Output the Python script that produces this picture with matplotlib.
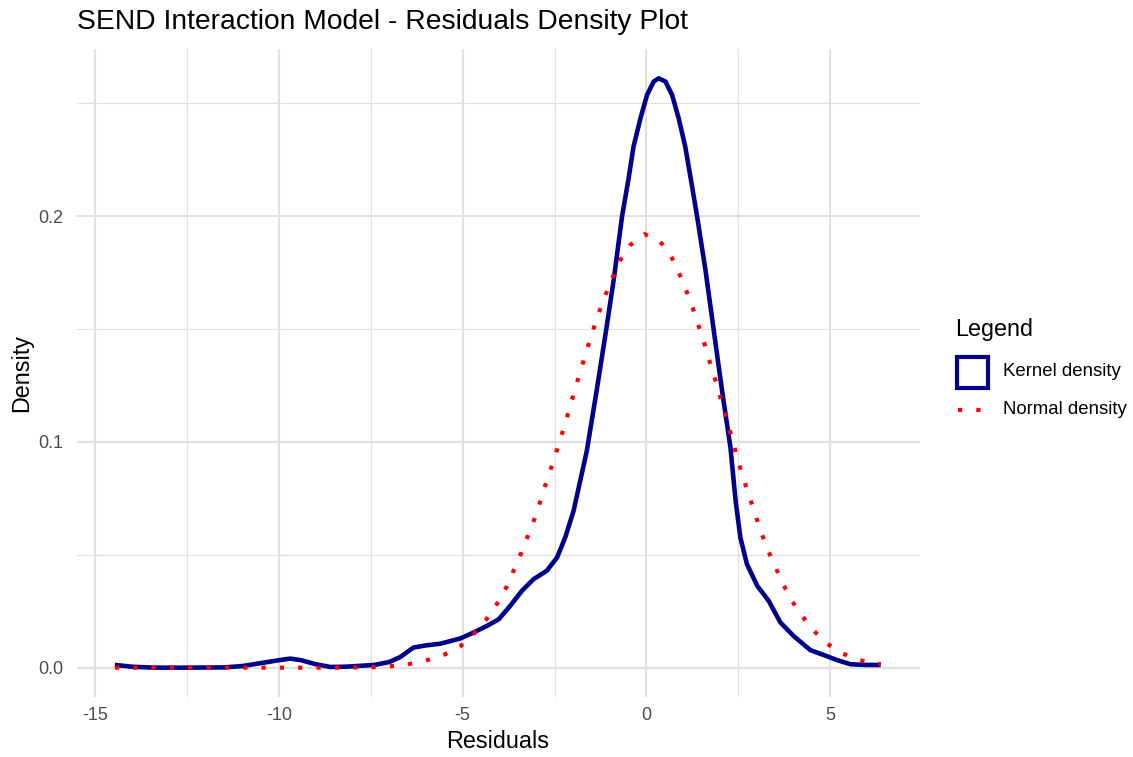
import matplotlib.pyplot as plt
from matplotlib.lines import Line2D
from matplotlib.patches import Rectangle
from matplotlib.ticker import MultipleLocator

plt.rcParams['font.family'] = ['Liberation Sans', 'DejaVu Sans']
plt.rcParams['axes.unicode_minus'] = False

# kernel density of the residuals
kde_x = [-14.47, -14.0, -13.4, -12.5, -11.5, -11.0, -10.5, -10.0, -9.7, -9.4,
         -9.0, -8.6, -8.2, -7.8, -7.4, -7.0, -6.7, -6.34, -5.98, -5.61,
         -5.07, -4.71, -4.34, -4.02, -3.71, -3.39, -3.07, -2.71, -2.43, -2.21,
         -1.98, -1.8, -1.62, -1.41, -1.34, -1.09, -0.89, -0.66, -0.48, -0.35,
         -0.16, 0.02, 0.2, 0.335, 0.52, 0.7, 0.88, 1.06, 1.22, 1.38,
         1.61, 1.83, 2.06, 2.29, 2.43, 2.56, 2.74, 3.02, 3.33, 3.65,
         4.01, 4.47, 4.83, 5.2, 5.56, 6.0, 6.38]
kde_y = [0.0012, 0.0004, 0.0, 0.0, 0.0001, 0.0007, 0.002, 0.0033, 0.004, 0.0033,
         0.0015, 0.0003, 0.0004, 0.0008, 0.0012, 0.0025, 0.0047, 0.0089, 0.0099, 0.0106,
         0.0129, 0.0155, 0.0185, 0.0214, 0.0273, 0.034, 0.0392, 0.0429, 0.0488, 0.0576,
         0.0695, 0.0828, 0.0961, 0.117, 0.124, 0.15, 0.1716, 0.2, 0.217, 0.2307,
         0.2433, 0.2537, 0.2596, 0.261, 0.2596, 0.2537, 0.2433, 0.2307, 0.2155, 0.2,
         0.176, 0.15, 0.1228, 0.0975, 0.0739, 0.0576, 0.0458, 0.0362, 0.0296, 0.02,
         0.014, 0.0077, 0.0056, 0.0033, 0.0015, 0.0012, 0.0012]

# normal density with the residuals' mean and sd
norm_x = [-14.47, -12.0, -10.0, -8.5, -7.43, -6.98, -6.48, -5.98, -5.53, -5.07,
          -4.69, -4.36, -4.07, -3.81, -3.6, -3.4, -3.21, -3.02, -2.86, -2.71,
          -2.54, -2.38, -2.23, -2.08, -1.94, -1.79, -1.64, -1.48, -1.32, -1.14,
          -0.94, -0.73, -0.45, -0.05, 0.38, 0.68, 0.91, 1.11, 1.29, 1.45,
          1.61, 1.75, 1.91, 2.05, 2.19, 2.34, 2.47, 2.62, 2.78, 2.95,
          3.11, 3.29, 3.5, 3.71, 3.95, 4.24, 4.56, 4.92, 5.35, 5.81, 6.38]
norm_y = [0.0, 0.0, 0.0, 0.0, 0.0002, 0.0006, 0.0015, 0.0033, 0.0055, 0.0094,
          0.0151, 0.0213, 0.0282, 0.0356, 0.0435, 0.0511, 0.059, 0.067, 0.075, 0.083,
          0.091, 0.0993, 0.107, 0.1155, 0.1235, 0.1316, 0.1397, 0.148, 0.156, 0.164,
          0.172, 0.18, 0.187, 0.192, 0.1886, 0.182, 0.174, 0.166, 0.158, 0.15,
          0.142, 0.134, 0.1257, 0.1176, 0.1095, 0.1014, 0.0931, 0.085, 0.0769, 0.0687,
          0.0606, 0.0528, 0.0451, 0.0374, 0.0299, 0.0229, 0.0163, 0.0106, 0.0062, 0.0033, 0.0015]

x_ticks = [-15, -10, -5, 0, 5]
y_ticks = [0.0, 0.1, 0.2]
legend_labels = ['Kernel density', 'Normal density']

W, H = 1133, 757
fig = plt.figure(figsize=(W / 100, H / 100), dpi=100)
ax = fig.add_axes([77 / W, 1 - 697 / H, 843 / W, 648 / H])

navy = '#00008B'
red = '#FF0000'
dot = (0, (1, 3.4))

ax.plot(kde_x, kde_y, color=navy, lw=3.3, solid_joinstyle='round',
        solid_capstyle='butt', zorder=3)
ax.plot(norm_x, norm_y, color=red, lw=3.0, linestyle=dot,
        dash_capstyle='butt', zorder=4)

ax.set_xlim(-15.5, 7.45)
ax.set_ylim(-0.013, 0.274)
ax.set_xticks(x_ticks)
ax.set_yticks(y_ticks)
ax.set_yticklabels([f'{v:.1f}' for v in y_ticks])
ax.xaxis.set_minor_locator(MultipleLocator(2.5))
ax.yaxis.set_minor_locator(MultipleLocator(0.05))
ax.grid(which='major', color='#e0e0e0', lw=1.5)
ax.grid(which='minor', color='#e0e0e0', lw=0.9)
ax.set_axisbelow(True)
ax.tick_params(which='both', length=0, labelsize=13, labelcolor='#4d4d4d')
ax.tick_params(axis='y', pad=10)
ax.tick_params(axis='x', pad=7)
for s in ax.spines.values():
    s.set_visible(False)

fig.text(498 / W, 1 - 742 / H, 'Residuals', fontsize=16.8, ha='center', va='center')
fig.text(22 / W, 1 - 373 / H, 'Density', fontsize=16.8, rotation=90,
         ha='center', va='center')
fig.text(77 / W, 1 - 22 / H, 'SEND Interaction Model - Residuals Density Plot',
         fontsize=20.3, ha='left', va='center')

# legend drawn like the ggplot guide
fig.text(955 / W, 1 - 330 / H, 'Legend', fontsize=16.8, ha='left', va='center')
fig.add_artist(Rectangle((957 / W, 1 - 388 / H), 31 / W, 31 / H,
                         transform=fig.transFigure, facecolor='white',
                         edgecolor=navy, lw=3.0))
fig.add_artist(Line2D([958 / W, 986 / W], [1 - 410 / H, 1 - 410 / H],
                      transform=fig.transFigure, color=red, lw=3.0,
                      linestyle=dot, dash_capstyle='butt'))
fig.text(1003 / W, 1 - 372 / H, legend_labels[0], fontsize=13.4, ha='left', va='center')
fig.text(1003 / W, 1 - 410 / H, legend_labels[1], fontsize=13.4, ha='left', va='center')

fig.savefig('out.png', dpi=100)
